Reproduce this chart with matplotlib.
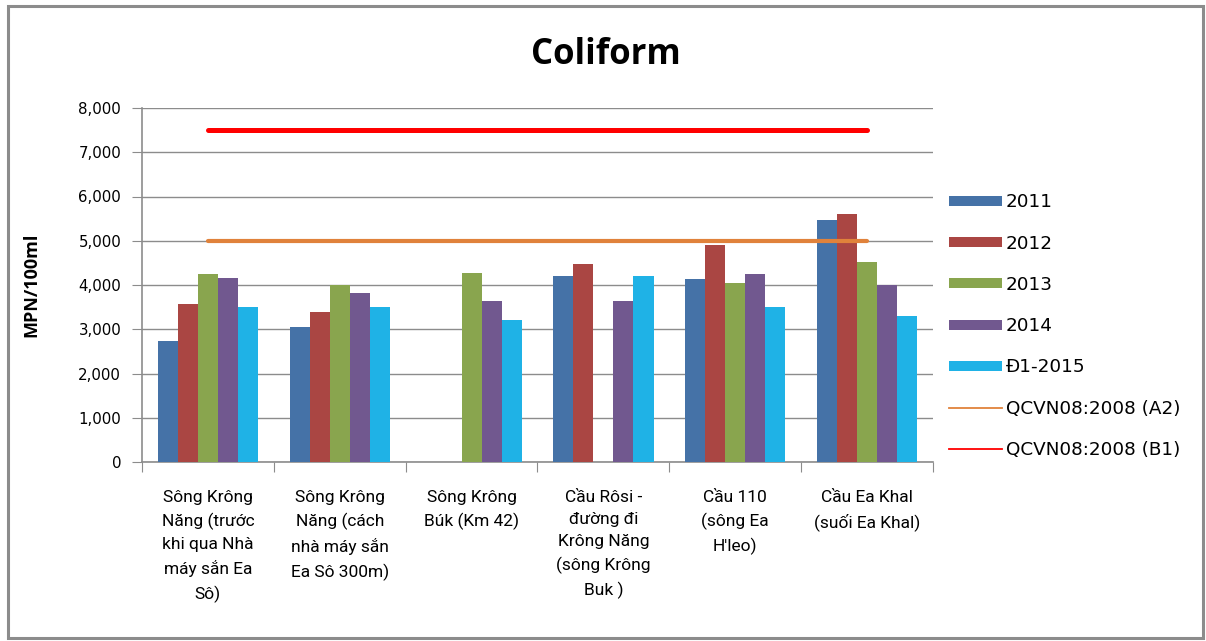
import matplotlib
matplotlib.use("Agg")
import matplotlib.pyplot as plt
import numpy as np
from matplotlib.patches import Rectangle, Patch
from matplotlib.lines import Line2D
from matplotlib.ticker import FuncFormatter, FixedLocator

plt.rcParams["font.family"] = ["DejaVu Sans"]

# Sampling sites
sites = [
    "Sông Krông\nNăng (trước\nkhi qua Nhà\nmáy sắn Ea\nSô)",
    "Sông Krông\nNăng (cách\nnhà máy sắn\nEa Sô 300m)",
    "Sông Krông\nBúk (Km 42)",
    "Cầu Rôsi -\nđường đi\nKrông Năng\n(sông Krông\nBuk )",
    "Cầu 110\n(sông Ea\nH'leo)",
    "Cầu Ea Khal\n(suối Ea Khal)",
]

# Coliform (MPN/100ml) per year; None = no measurement
y2011 = [2730, 3040, None, 4200, 4140, 5480]
y2012 = [3560, 3400, None, 4470, 4900, 5600]
y2013 = [4240, 4000, 4260, None, 4040, 4520]
y2014 = [4150, 3830, 3630, 3630, 4240, 4000]
y2015 = [3500, 3500, 3200, 4200, 3500, 3300]

series_names = ["2011", "2012", "2013", "2014", "Đ1-2015"]
series_vals = [y2011, y2012, y2013, y2014, y2015]
series_colors = ["#4572A7", "#AA4643", "#89A54E", "#71588F", "#1FB2E6"]

# QCVN08:2008 limits
limit_a2 = [5000] * len(sites)
limit_b1 = [7500] * len(sites)
limit_names = ["QCVN08:2008 (A2)", "QCVN08:2008 (B1)"]
limit_colors = ["#E0823B", "#FF0000"]

W, H = 1206, 641
fig = plt.figure(figsize=(W / 100, H / 100), dpi=100)
fig.patch.set_facecolor("white")

# outer chart frame
fig.patches.append(Rectangle((8 / W, 1 - 638 / H), (1203 - 8) / W, (638 - 6) / H,
                             transform=fig.transFigure, fill=False,
                             edgecolor="#8C8C8C", linewidth=2.2))

ax = fig.add_axes([142 / W, (H - 462) / H, 791 / W, 354 / H])

x = np.arange(len(sites))
bw = 0.152
offsets = (np.arange(5) - 2) * bw
for vals, off, col, name in zip(series_vals, offsets, series_colors, series_names):
    v = np.array([np.nan if t is None else t for t in vals], dtype=float)
    ax.bar(x + off, np.nan_to_num(v), width=bw, color=col, label=name,
           linewidth=0, zorder=3)

for vals, col, name, lw in zip([limit_a2, limit_b1], limit_colors, limit_names, [3.0, 3.6]):
    ax.plot(x, vals, color=col, linewidth=lw, solid_capstyle="round",
            label=name, zorder=4)

ax.set_xlim(-0.5, len(sites) - 0.5)
ax.set_ylim(0, 8000)
ax.set_yticks(np.arange(0, 8001, 1000))
ax.yaxis.set_major_formatter(FuncFormatter(lambda v, p: f"{int(v):,}"))
ax.grid(axis="y", color="#8C8C8C", linewidth=1.0, zorder=0)
ax.set_axisbelow(True)

for s in ["top", "right"]:
    ax.spines[s].set_visible(False)
for s in ["left", "bottom"]:
    ax.spines[s].set_color("#8C8C8C")
    ax.spines[s].set_linewidth(1.2)

ax.tick_params(axis="y", length=7, color="#8C8C8C", labelsize=10.8, pad=8)
ax.xaxis.set_major_locator(FixedLocator(np.arange(-0.5, len(sites), 1.0)))
ax.tick_params(axis="x", length=7, color="#8C8C8C", labelbottom=False)

label_font = ["Liberation Sans Narrow", "Roboto", "DejaVu Sans"]
for xi, s in zip(x, sites):
    ax.text(xi, -640, s, ha="center", va="top", fontsize=12.5,
            family=label_font, linespacing=1.58,
            transform=ax.transData, clip_on=False)

ax.set_ylabel("MPN/100ml", fontsize=13, fontweight="bold", labelpad=27,
              family=["Open Sans", "DejaVu Sans"])
fig.text(606 / W, 1 - 55 / H, "Coliform", ha="center", va="center",
         fontsize=25, fontweight="bold", family=["Open Sans", "DejaVu Sans"])

# legend: filled boxes for the years, thin lines for the limits
leg_handles = [Patch(facecolor=c, edgecolor="none") for c in series_colors]
leg_handles += [Line2D([], [], color=c, linewidth=1.3) for c in limit_colors]
fig.legend(handles=leg_handles, labels=series_names + limit_names,
           loc="upper left", bbox_to_anchor=(942 / W, 1 - 186 / H),
           frameon=False, fontsize=13.2, handlelength=2.85, handleheight=0.45,
           labelspacing=1.27, handletextpad=0.22, borderaxespad=0)

fig.savefig("out.png", dpi=100, facecolor="white")
